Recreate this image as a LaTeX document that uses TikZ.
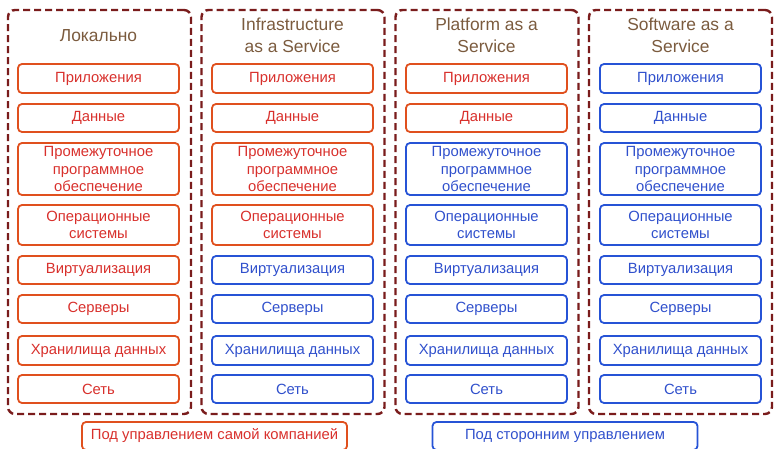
\documentclass[tikz,border=0pt]{standalone}
\usepackage{fontspec}
\setmainfont{Liberation Sans}
\definecolor{dashc}{HTML}{7A1C1C}
\definecolor{titlec}{HTML}{7B5B3E}
\definecolor{redb}{HTML}{E0501E}
\definecolor{redt}{HTML}{D8302C}
\definecolor{blueb}{HTML}{2653D6}
\definecolor{bluet}{HTML}{3050CC}
\begin{document}
\begin{tikzpicture}[x=1pt,y=-1pt,
  outer/.style={draw=dashc,line width=2.4pt,dash pattern=on 7pt off 4pt,rounded corners=7pt,minimum width=183pt,inner sep=0pt},
  cell/.style={rounded corners=4pt,line width=1.8pt,minimum width=161pt,inner sep=0pt,align=center,font=\fontsize{14.8}{17.5}\selectfont},
  own/.style={cell,draw=redb,text=redt},
  ext/.style={cell,draw=blueb,text=bluet},
  ttl/.style={text=titlec,align=center,font=\fontsize{17.4}{22}\selectfont},
  leg/.style={rounded corners=4pt,line width=1.8pt,minimum width=265pt,minimum height=28pt,inner sep=0pt,font=\fontsize{14.8}{16}\selectfont}]
\useasboundingbox (0,0) rectangle (774,449);
% outer frames
\node[outer,minimum height=404pt] (c1) at (99.5,212) {};
\node[outer,minimum height=404pt] (c2) at (293,212) {};
\node[outer,minimum height=404pt] (c3) at (487,212) {};
\node[outer,minimum height=404pt] (c4) at (680.5,212) {};
% titles
\node[ttl] (t1) at (98.5,36) {Локально};
\node[ttl] (t2) at (292.5,35) {Infrastructure\\as a Service};
\node[ttl] (t3) at (486.5,35) {Platform as a\\Service};
\node[ttl] (t4) at (680.5,35) {Software as a\\Service};
% rows
\foreach \col/\cx/\n in {1/98.5/8, 2/292.5/4, 3/486.5/2, 4/680.5/0}{
  \foreach \r/\cy/\h/\txt in {
    1/78.5/29/{Приложения},
    2/118/28/{Данные},
    3/169/52/{Промежуточное\\программное\\обеспечение},
    4/225/40/{Операционные\\системы},
    5/270/28/{Виртуализация},
    6/309/28/{Серверы},
    7/350.5/29/{Хранилища данных},
    8/389/28/{Сеть}}{
    \ifnum\r>\n
      \node[ext,minimum height=\h pt] (b\col-\r) at (\cx,\cy) {\txt};
    \else
      \node[own,minimum height=\h pt] (b\col-\r) at (\cx,\cy) {\txt};
    \fi
  }
}
% legend
\node[leg,draw=redb,text=redt] (l1) at (214.5,436) {Под управлением самой компанией};
\node[leg,draw=blueb,text=bluet] (l2) at (565,436) {Под сторонним управлением};
\end{tikzpicture}
\end{document}
